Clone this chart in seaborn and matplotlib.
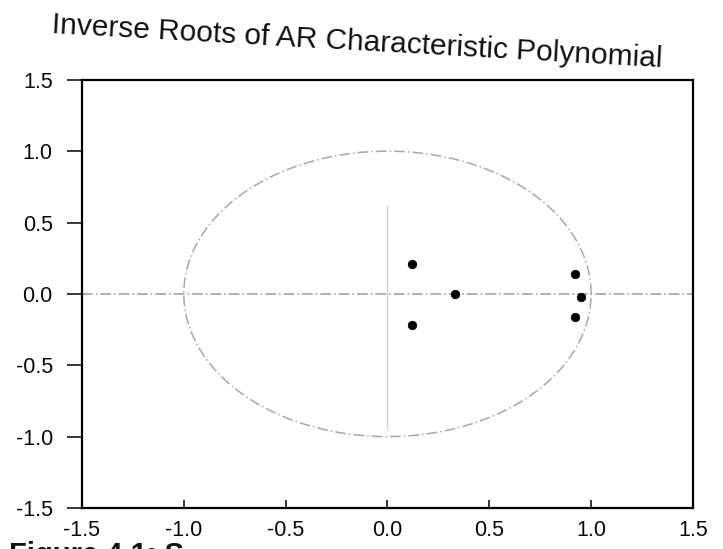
import numpy as np
import pandas as pd
import matplotlib
matplotlib.use("Agg")
import matplotlib.pyplot as plt
import seaborn as sns

# Inverse AR roots
root_real = [0.12, 0.12, 0.33, 0.92, 0.92, 0.95]
root_imag = [0.21, -0.22, 0.00, 0.14, -0.16, -0.02]
ticks = [-1.5, -1.0, -0.5, 0.0, 0.5, 1.0, 1.5]
tick_labels = ["-1.5", "-1.0", "-0.5", "0.0", "0.5", "1.0", "1.5"]
title = "Inverse Roots of AR Characteristic Polynomial"
caption = "Figure 4.1: S"

sns.set_theme(style="white")
plt.rcParams['font.family'] = ['Liberation Sans', 'DejaVu Sans']

fig = plt.figure(figsize=(7.23, 5.49), dpi=100)
ax = fig.add_axes([0.1134, 0.0747, 0.845, 0.78])

# unit circle
theta = np.linspace(0, 2 * np.pi, 400)
circ = pd.DataFrame({"x": np.cos(theta), "y": np.sin(theta)})
ax.plot(circ["x"], circ["y"], color="#a8a8a8", lw=1.1, ls=(0, (7, 2, 1, 2)))

ax.axhline(0, color="#9a9a9a", lw=1.1, ls=(0, (7, 2, 1, 2)), zorder=1)
ax.vlines(0, -0.95, 0.62, color="#cccccc", lw=0.9, zorder=1)

df = pd.DataFrame({"re": root_real, "im": root_imag})
sns.scatterplot(data=df, x="re", y="im", ax=ax, color="black", s=38,
                edgecolor="black", linewidth=0.5, zorder=3)

ax.set_xlim(-1.5, 1.5)
ax.set_ylim(-1.5, 1.5)
ax.set_xticks(ticks)
ax.set_xticklabels(tick_labels)
ax.set_yticks(ticks)
ax.set_yticklabels(tick_labels)
ax.set_xlabel("")
ax.set_ylabel("")
for s in ax.spines.values():
    s.set_color("black")
    s.set_linewidth(1.6)
ax.tick_params(axis="y", direction="out", length=11, width=1.1, color="black",
               labelsize=15.5, pad=10, left=True)
ax.tick_params(axis="x", direction="in", length=6, width=1.1, color="black",
               labelsize=15.5, pad=9, bottom=True)
for lab in ax.get_xticklabels() + ax.get_yticklabels():
    lab.set_color("#0a0a0a")

fig.text(0.072, 0.955, title, fontsize=21.5, color="#111111", ha="left",
         va="center", rotation=-3.2, rotation_mode="anchor")
fig.text(0.012, 0.0146, caption, fontsize=21, fontweight="bold",
         color="#111111", ha="left", va="top")

fig.savefig("out.png", dpi=100)
